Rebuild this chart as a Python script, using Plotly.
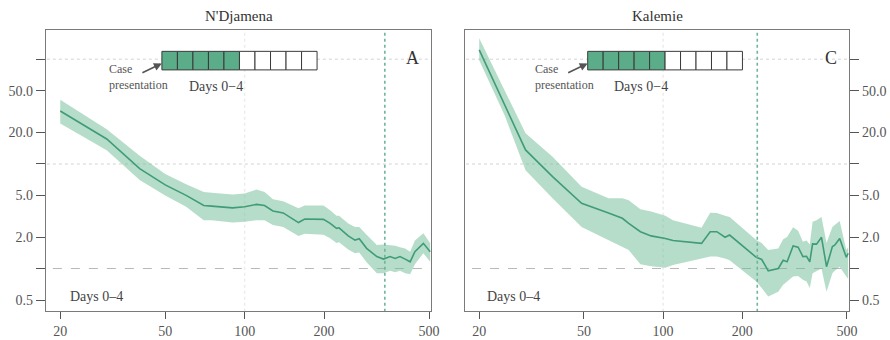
import plotly.graph_objects as go

# ---------------- data ----------------
ndj_x = [20, 30, 40, 50, 60, 70, 75, 90, 100, 111, 119, 128, 140, 160, 169, 199, 211, 223, 228,
         247, 262, 272, 290, 317, 336, 356, 372, 388, 406, 424, 442, 476, 505]
ndj_mid = [32, 17.3, 9.0, 6.3, 5.0, 4.0, 3.95, 3.8, 3.9, 4.1, 4.0, 3.55, 3.4, 2.75, 2.97, 2.95, 2.7,
           2.42, 2.45, 2.05, 1.87, 1.93, 1.56, 1.30, 1.23, 1.30, 1.25, 1.30, 1.23, 1.16, 1.45, 1.74, 1.45]
ndj_hi = [41, 21.5, 12.0, 8.0, 6.4, 5.4, 5.3, 5.1, 5.2, 5.7, 5.4, 4.6, 4.4, 3.76, 4.0, 4.0, 3.6,
          3.2, 3.2, 2.7, 2.5, 2.5, 2.1, 1.68, 1.7, 1.68, 1.65, 1.6, 1.55, 1.45, 1.85, 2.17, 1.74]
ndj_lo = [24.4, 13.5, 7.0, 5.0, 3.9, 2.9, 2.9, 2.75, 2.8, 2.9, 2.9, 2.6, 2.5, 2.05, 2.15, 2.1, 1.95,
          1.75, 1.78, 1.52, 1.4, 1.42, 1.15, 0.9, 0.9, 0.95, 0.92, 0.95, 0.9, 0.88, 1.1, 1.4, 1.16]

kal_x = [20, 25, 30, 38, 49, 62, 70, 74, 82, 90, 102, 109, 140, 151, 160, 172, 179, 226, 237, 251,
         274, 286, 296, 312, 326, 340, 351, 361, 370, 383, 400, 418, 440, 449, 469, 497, 505]
kal_mid = [123, 37, 13.6, 7.55, 4.2, 3.4, 3.02, 2.7, 2.25, 2.05, 1.94, 1.85, 1.74, 2.25, 2.25, 1.99,
           2.09, 1.28, 1.22, 0.95, 1.0, 1.2, 1.16, 1.64, 1.6, 1.30, 1.31, 1.16, 1.72, 1.71, 1.99,
           1.04, 1.62, 1.67, 1.94, 1.28, 1.4]
kal_hi = [159, 50, 19.6, 11.7, 6.05, 4.7, 4.7, 4.5, 3.68, 3.5, 3.2, 2.9, 2.45, 3.42, 3.4, 3.2, 3.1,
          1.87, 1.75, 1.5, 1.55, 1.9, 2.0, 2.48, 2.3, 1.8, 1.85, 1.7, 2.8, 2.9, 3.1, 1.75, 2.5, 2.6,
          2.85, 1.5, 1.6]
kal_lo = [98, 29, 8.7, 4.7, 2.5, 1.87, 1.62, 1.5, 1.1, 1.05, 1.02, 1.08, 1.25, 1.3, 1.3, 1.25, 1.2,
          0.75, 0.65, 0.54, 0.6, 0.7, 0.75, 0.84, 0.85, 0.78, 0.75, 0.65, 0.9, 0.95, 1.0, 0.6, 0.9,
          0.95, 1.04, 0.84, 0.8]

panel_titles = ["N'Djamena", "Kalemie"]
panel_letters = ["A", "C"]
cutoff_x = [340, 228]          # vertical dotted green lines
ref_y = 1.0                    # dashed reference line
grid_y = [10, 100]
grid_x = [100]

x_ticks = [20, 50, 100, 200, 500]
x_ticklabels = ["20", "50", "100", "200", "500"]
y_ticks = [0.5, 1, 2, 5, 10, 20, 50, 100]
y_ticklabels = ["0.5", "", "2.0", "5.0", "", "20.0", "50.0", ""]

n_cells = 10
n_filled = 5

# ---------------- styling ----------------
FONT = "Liberation Serif"
LINE = "#3f9c77"
BAND = "rgba(110,188,150,0.50)"
CELL = "#5aad88"
XR = [1.247, 2.7066]
YR = [-0.406, 2.280]

fig = go.Figure()

datasets = [(ndj_x, ndj_mid, ndj_lo, ndj_hi), (kal_x, kal_mid, kal_lo, kal_hi)]
for i, (xs, mid, lo, hi) in enumerate(datasets):
    xa = "x" if i == 0 else "x2"
    ya = "y" if i == 0 else "y2"
    # grid lines
    for gy in grid_y:
        fig.add_trace(go.Scatter(x=[10, 700], y=[gy, gy], mode="lines", xaxis=xa, yaxis=ya,
                                 line=dict(color="#e2e2e2", width=1.5, dash="dot"),
                                 showlegend=False, hoverinfo="skip"))
    for gx in grid_x:
        fig.add_trace(go.Scatter(x=[gx, gx], y=[0.2, 400], mode="lines", xaxis=xa, yaxis=ya,
                                 line=dict(color="#ececec", width=1.5, dash="dot"),
                                 showlegend=False, hoverinfo="skip"))
    fig.add_trace(go.Scatter(x=[10, 700], y=[ref_y, ref_y], mode="lines", xaxis=xa, yaxis=ya,
                             line=dict(color="#b8b8b8", width=1, dash="dash"),
                             showlegend=False, hoverinfo="skip"))
    # band
    fig.add_trace(go.Scatter(x=xs, y=lo, mode="lines", xaxis=xa, yaxis=ya,
                             line=dict(width=0, color=BAND), showlegend=False, hoverinfo="skip"))
    fig.add_trace(go.Scatter(x=xs, y=hi, mode="lines", xaxis=xa, yaxis=ya, fill="tonexty",
                             fillcolor=BAND, line=dict(width=0, color=BAND),
                             showlegend=False, hoverinfo="skip"))
    fig.add_trace(go.Scatter(x=xs, y=mid, mode="lines", xaxis=xa, yaxis=ya,
                             line=dict(color=LINE, width=1.6), showlegend=False))
    # cutoff line
    fig.add_trace(go.Scatter(x=[cutoff_x[i]] * 2, y=[0.2, 400], mode="lines", xaxis=xa, yaxis=ya,
                             line=dict(color="#6fb59c", width=1.6, dash="dot"),
                             showlegend=False, hoverinfo="skip"))

axis_common = dict(type="log", showgrid=False, zeroline=False, showline=True, mirror=True,
                   linecolor="#7a7a7a", linewidth=1.2, ticks="outside", tickcolor="#555",
                   automargin=False,
                   tickfont=dict(family=FONT, size=14, color="#555"))

fig.update_layout(
    width=890, height=340,
    margin=dict(l=46, r=41, t=30, b=29, autoexpand=False),
    plot_bgcolor="white", paper_bgcolor="white",
    xaxis=dict(domain=[0, 0.4795], range=XR, tickvals=x_ticks, ticktext=x_ticklabels,
               ticklen=7, anchor="y", **axis_common),
    yaxis=dict(domain=[0, 1], range=YR, tickvals=y_ticks, ticktext=y_ticklabels,
               ticklen=9, anchor="x", **axis_common),
    xaxis2=dict(domain=[0.5218, 1.0], range=XR, tickvals=x_ticks, ticktext=x_ticklabels,
                ticklen=7, anchor="y2", **axis_common),
    yaxis2=dict(domain=[0, 1], range=YR, tickvals=y_ticks, ticktext=y_ticklabels,
                ticklen=9, anchor="x2", side="right", **axis_common),
)

# inset geometry (fractions of each panel)
box_x0 = [0.301, 0.3195]
cell_w = 0.0403
box_y0, box_y1 = 0.858, 0.924
label_x = [0.158, 0.178]
days_x = [0.366, 0.383]

shapes = []
annotations = []
for i in range(2):
    xr = "x domain" if i == 0 else "x2 domain"
    yr = "y domain" if i == 0 else "y2 domain"
    for c in range(n_cells):
        shapes.append(dict(type="rect", xref=xr, yref=yr,
                           x0=box_x0[i] + c * cell_w, x1=box_x0[i] + (c + 1) * cell_w,
                           y0=box_y0, y1=box_y1,
                           fillcolor=CELL if c < n_filled else "white",
                           line=dict(color="#3a3a3a", width=1)))
    annotations.append(dict(xref=xr, yref=yr, x=box_x0[i], y=(box_y0 + box_y1) / 2 - 0.01,
                            ax=-21, ay=10, text="", showarrow=True, arrowhead=2,
                            arrowsize=1, arrowwidth=1.6, arrowcolor="#555"))
    annotations.append(dict(xref=xr, yref=yr, x=label_x[i], y=0.831, xanchor="left",
                            yanchor="middle", align="left", showarrow=False,
                            text="Case<br>presentation",
                            font=dict(family=FONT, size=12, color="#555")))
    annotations.append(dict(xref=xr, yref=yr, x=days_x[i], y=0.80, xanchor="left",
                            yanchor="middle", showarrow=False, text="Days 0\u22124",
                            font=dict(family=FONT, size=14, color="#444")))
    annotations.append(dict(xref=xr, yref=yr, x=0.953, y=0.900, xanchor="center",
                            yanchor="middle", showarrow=False, text=panel_letters[i],
                            font=dict(family=FONT, size=18, color="#333")))
    annotations.append(dict(xref=xr, yref=yr, x=0.058 if i == 0 else 0.052, y=0.05,
                            xanchor="left", yanchor="middle", showarrow=False,
                            text="Days 0\u20134",
                            font=dict(family=FONT, size=14, color="#444")))
    annotations.append(dict(xref=xr, yref="paper", x=0.5, y=1.0, yshift=4,
                            xanchor="center", yanchor="bottom", showarrow=False,
                            text=panel_titles[i],
                            font=dict(family=FONT, size=15, color="#333")))

fig.update_layout(shapes=shapes, annotations=annotations)
fig.write_html("out.html")
